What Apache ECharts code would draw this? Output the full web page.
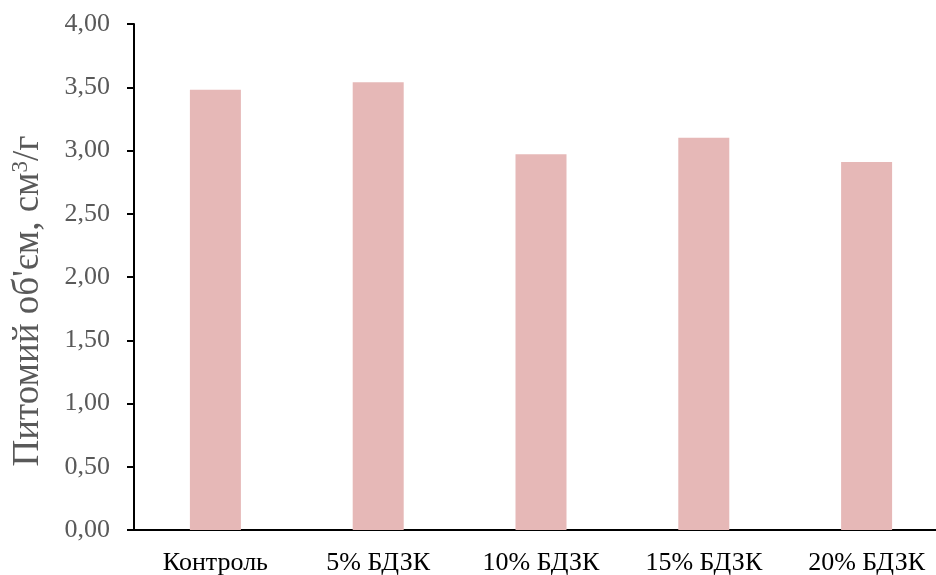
<!DOCTYPE html>
<html>
<head>
<meta charset="utf-8">
<script src="https://cdn.jsdelivr.net/npm/echarts@6/dist/echarts.min.js"></script>
<style>
  html, body { margin: 0; padding: 0; background: #ffffff; }
  #chart { width: 936px; height: 575px; }
</style>
</head>
<body>
<div id="chart"></div>
<script>
// Specific volume of bread samples by additive level
const categories = ['Контроль', '5% БДЗК', '10% БДЗК', '15% БДЗК', '20% БДЗК'];
const volumes = [3.48, 3.54, 2.97, 3.10, 2.91];
const yMin = 0;
const yMax = 4;
const yStep = 0.5;

const serif = '"Liberation Serif", "DejaVu Serif", serif';

const chart = echarts.init(document.getElementById('chart'), null, { renderer: 'canvas' });

chart.setOption({
  backgroundColor: '#ffffff',
  animation: false,
  grid: {
    left: 134, width: 814, top: 24, bottom: 45,
    containLabel: false,
    outerBoundsMode: 'none'
  },
  xAxis: {
    type: 'category',
    data: categories,
    axisLine: { lineStyle: { color: '#000000', width: 2 } },
    axisTick: { show: false },
    axisLabel: {
      color: '#000000',
      fontFamily: serif,
      fontSize: 26,
      margin: 20
    }
  },
  yAxis: {
    type: 'value',
    min: yMin,
    max: yMax,
    interval: yStep,
    splitLine: { show: false },
    axisLine: { show: true, lineStyle: { color: '#000000', width: 2 } },
    axisTick: { show: true, length: 7, lineStyle: { color: '#000000', width: 2 } },
    axisLabel: {
      color: '#595959',
      fontFamily: serif,
      fontSize: 26,
      margin: 24,
      formatter: v => v.toFixed(2).replace('.', ',')
    }
  },
  graphic: [{
    type: 'text',
    x: 28,
    y: 301,
    rotation: Math.PI / 2,
    style: {
      text: '{t|Питомий об\'єм, см}{s|3}{t|/г}',
      align: 'center',
      verticalAlign: 'middle',
      rich: {
        t: { fontFamily: serif, fontSize: 37, fill: '#595959' },
        s: { fontFamily: serif, fontSize: 23, fill: '#595959', verticalAlign: 'top', padding: [0, 0, 14, 0] }
      }
    }
  }],
  series: [{
    type: 'bar',
    data: volumes,
    barWidth: 51,
    itemStyle: { color: '#E6B8B7' }
  }]
});
</script>
</body>
</html>
